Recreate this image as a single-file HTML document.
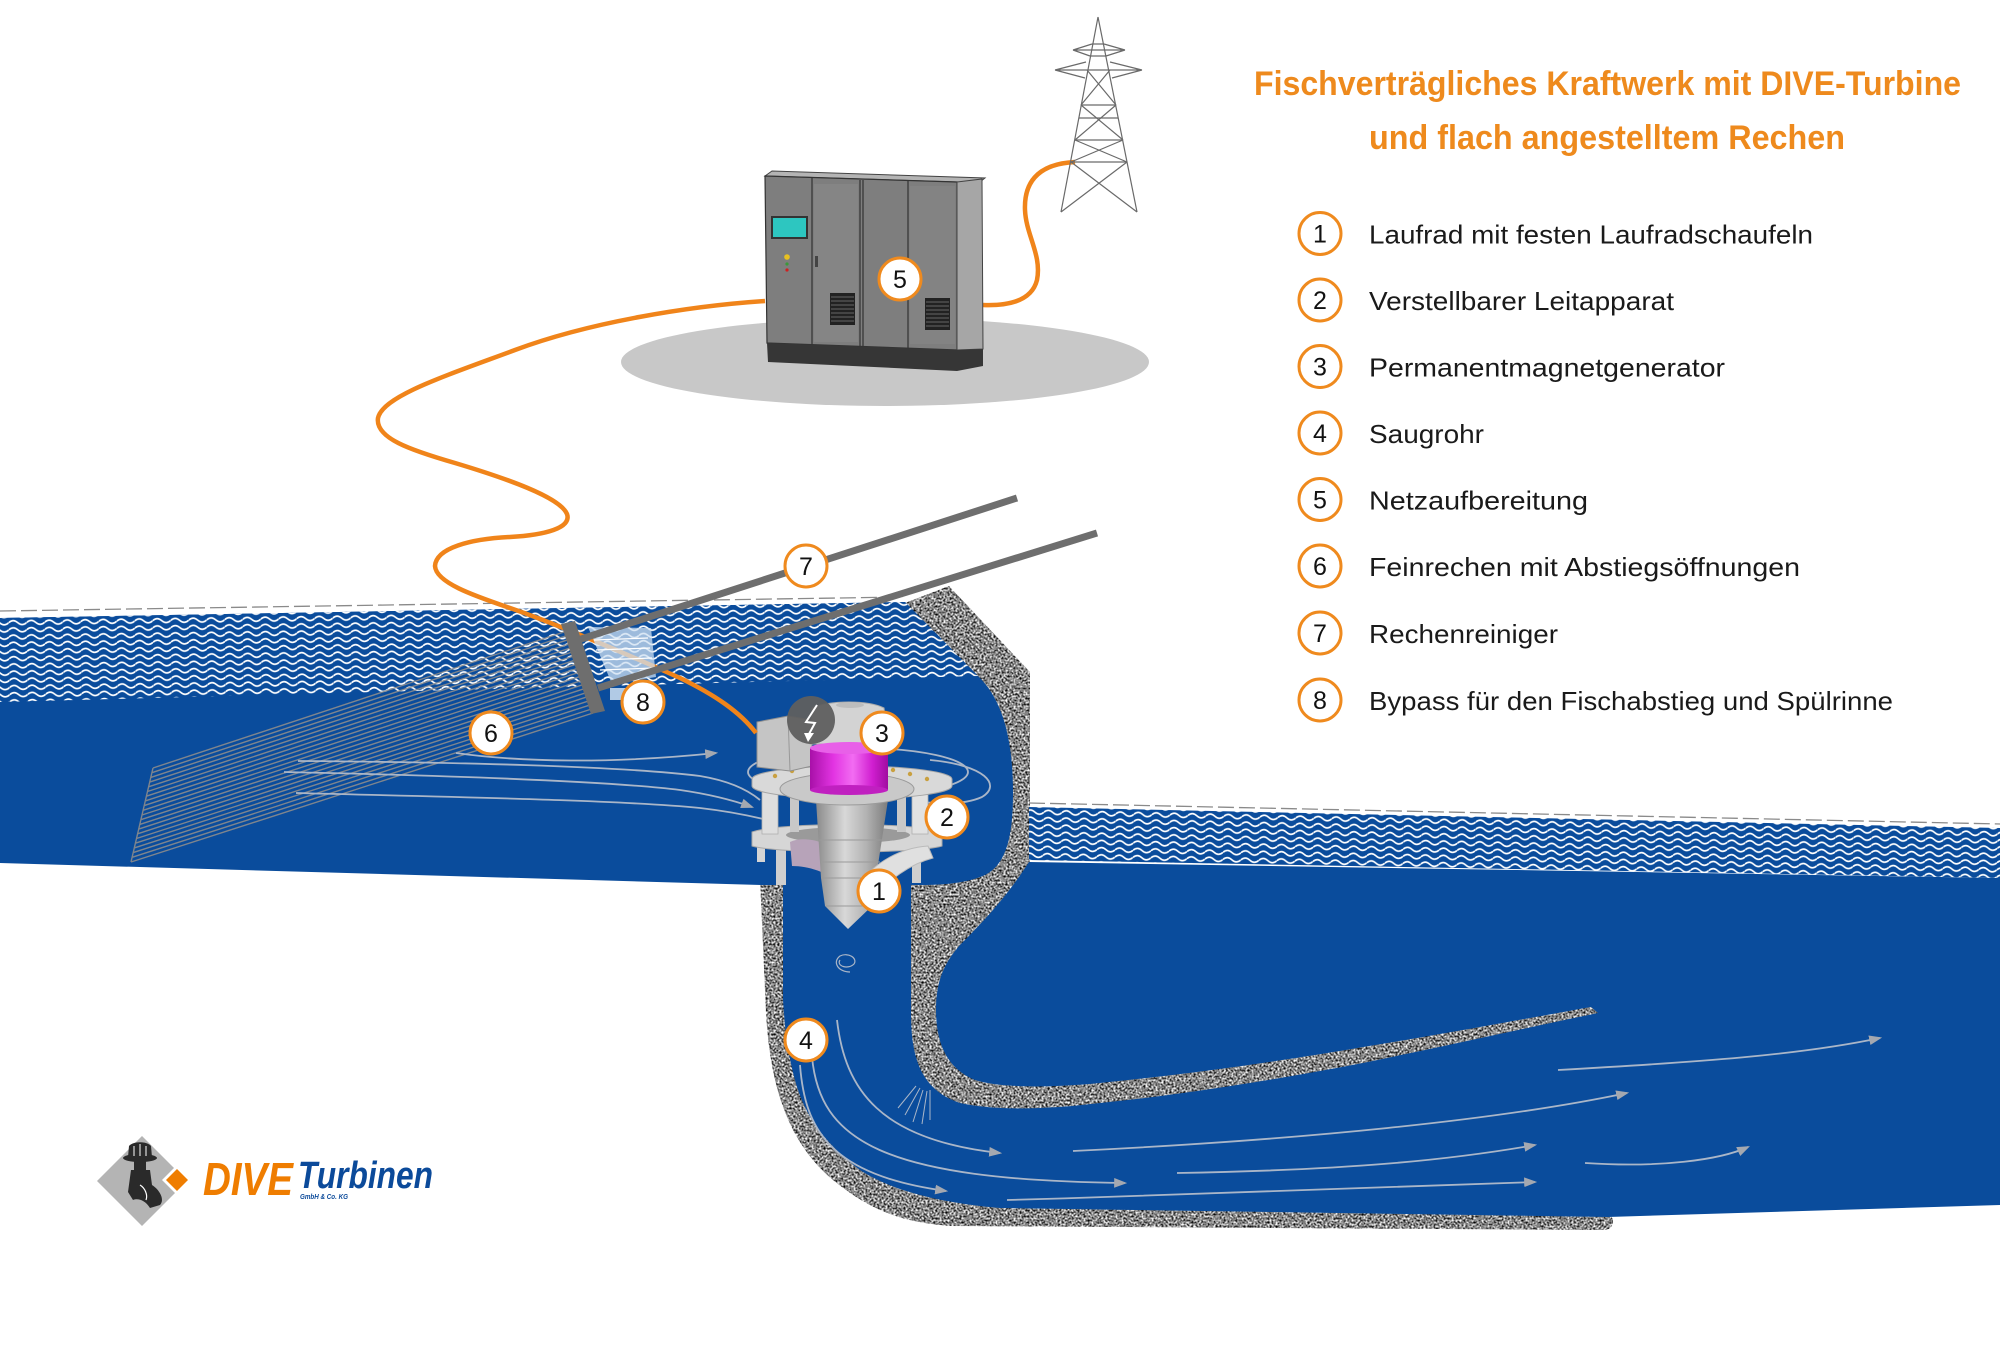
<!DOCTYPE html>
<html><head><meta charset="utf-8"><style>html,body{margin:0;padding:0;background:#fff;}svg{display:block}</style></head>
<body>
<svg width="2000" height="1350" viewBox="0 0 2000 1350" xmlns="http://www.w3.org/2000/svg">
<defs>
 <pattern id="wavesU" patternUnits="userSpaceOnUse" width="18" height="7.2" patternTransform="rotate(-0.8)">
  <rect width="18" height="7.2" fill="#0a4c9c"/>
  <path d="M0,3.6 C3,0.9 6,0.9 9,3.6 C12,6.3 15,6.3 18,3.6" stroke="#fff" stroke-width="1.6" fill="none"/>
 </pattern>
 <pattern id="wavesL" patternUnits="userSpaceOnUse" width="18" height="7.2" patternTransform="rotate(1.3)">
  <rect width="18" height="7.2" fill="#0a4c9c"/>
  <path d="M0,3.6 C3,0.9 6,0.9 9,3.6 C12,6.3 15,6.3 18,3.6" stroke="#fff" stroke-width="1.6" fill="none"/>
 </pattern>
 <filter id="grain" x="0" y="0" width="1" height="1" color-interpolation-filters="sRGB">
  <feTurbulence type="fractalNoise" baseFrequency="0.5" numOctaves="2" seed="7" result="n"/>
  <feColorMatrix in="n" type="matrix" values="1.9 0 0 0 -0.42  1.9 0 0 0 -0.42  1.9 0 0 0 -0.42  0 0 0 0 1" result="g"/>
  <feComposite in="g" in2="SourceGraphic" operator="in"/>
 </filter>
 <linearGradient id="magG" x1="0" x2="1" y1="0" y2="0">
  <stop offset="0" stop-color="#a810a8"/><stop offset="0.3" stop-color="#e234e2"/>
  <stop offset="0.55" stop-color="#f26cf2"/><stop offset="0.8" stop-color="#d01ed0"/>
  <stop offset="1" stop-color="#a00ca0"/>
 </linearGradient>
 <linearGradient id="coneG" x1="0" x2="1" y1="0" y2="0">
  <stop offset="0" stop-color="#8a8a8a"/><stop offset="0.4" stop-color="#d8d8d8"/>
  <stop offset="0.7" stop-color="#b2b2b2"/><stop offset="1" stop-color="#7c7c7c"/>
 </linearGradient>
 <marker id="ah" viewBox="0 0 12 9" refX="10" refY="4.5" markerWidth="13" markerHeight="10" markerUnits="userSpaceOnUse" orient="auto">
  <path d="M0,0 L12,4.5 L0,9 Z" fill="#a4a8b0"/>
 </marker>
</defs>

<rect width="2000" height="1350" fill="#fff"/>

<!-- Concrete -->
<g filter="url(#grain)">
 <path d="M905,603 L949,586 L1030,672 L1030,905 L1000,950 L1600,1008 L1603,1014 L1363,1066 L1197,1096 L1032,1111 L945,1103 L907,1080 L905,880 Z" fill="#888"/>
 <path d="M760,878 L766,1013 C770,1080 785,1140 833,1180 C870,1210 900,1222 950,1226 L1605,1230 C1614,1229 1616,1218 1608,1214 L1000,1205 L790,1000 L786,878 Z" fill="#888"/>
</g>

<!-- Upper reservoir -->
<path d="M0,618 L905,602 L978,676 C1003,700 1013,740 1013,793 C1013,840 1005,865 985,875 C965,884 940,885 917,885 L761,885 L0,863 Z" fill="#0a4c9c"/>
<path d="M0,618 L905,602 L978,676 L0,702 Z" fill="url(#wavesU)"/>
<line x1="0" y1="611" x2="903" y2="597" stroke="#8a8a8a" stroke-width="1.3" stroke-dasharray="16 5"/>

<!-- Lower water -->
<path d="M783,878 L911,878 L911,1013 C911,1060 922,1090 960,1103 C1000,1112 1060,1108 1100,1103 C1200,1093 1300,1075 1363,1063 C1450,1045 1540,1025 1598,1013 L1591,1007 C1540,1016 1450,1033 1363,1047 C1300,1058 1200,1073 1100,1083 C1050,1088 1000,1088 975,1080 C945,1068 936,1040 936,1010 C936,980 945,962 960,945 C985,920 1008,895 1029,862 L2000,878 L2000,1205 L1608,1217 L1000,1208 C940,1203 890,1190 860,1170 C820,1140 803,1110 795,1080 C787,1050 785,1030 783,1000 Z" fill="#0a4c9c"/>
<path d="M1029,807 L2000,828 L2000,878 L1029,860 Z" fill="url(#wavesL)"/>
<line x1="1029" y1="803" x2="2000" y2="824" stroke="#8a8a8a" stroke-width="1.3" stroke-dasharray="16 5"/>

<!-- Rake lines (6) -->
<path d="M153,768 L564,632 M151.9,772.7 L565.5,636 M150.8,777.4 L566.9,640.1 M149.7,782.1 L568.4,644.2 M148.6,786.8 L569.8,648.2 M147.5,791.5 L571.3,652.3 M146.4,796.2 L572.7,656.3 M145.3,800.9 L574.2,660.4 M144.2,805.6 L575.6,664.4 M143.1,810.3 L577.1,668.5 M142,815 L578.5,672.5 M140.9,819.7 L580,676.6 M139.8,824.4 L581.4,680.6 M138.7,829.1 L582.9,684.7 M137.6,833.8 L584.3,688.7 M136.5,838.5 L585.8,692.8 M135.4,843.2 L587.2,696.8 M134.3,847.9 L588.7,700.9 M133.2,852.6 L590.1,704.9 M132.1,857.3 L591.6,709 M131,862 L593,713 M153,768 L131,862" stroke="#8c8c8c" stroke-width="1.4" fill="none" opacity="0.9"/>

<!-- Flow lines upper -->
<g stroke="#aab6c8" stroke-width="1.8" fill="none">
 <path d="M456,753 C520,762 610,764 716,753" marker-end="url(#ah)"/>
 <path d="M298,761 C450,762 620,766 700,776 C730,781 748,790 760,800"/>
 <path d="M284,772 C420,775 600,780 680,790 C715,795 738,802 752,807" marker-end="url(#ah)"/>
 <path d="M296,793 C450,797 620,800 700,808 C735,812 760,818 775,822" marker-end="url(#ah)"/>
 <ellipse cx="858" cy="772" rx="110" ry="24"/>
 <path d="M930,760 C985,765 1002,785 982,797 C962,806 930,804 912,800"/>
</g>

<!-- Turbine -->
<g>
 <rect x="776" y="845" width="10" height="40" fill="#cfcfcf"/>
 <rect x="912" y="845" width="9" height="38" fill="#cfcfcf"/>
 <rect x="757" y="840" width="8" height="22" fill="#d4d4d4"/>
 <path d="M752,832 C780,822 915,822 942,832 L942,846 C915,854 780,854 752,846 Z" fill="#d6d6d6" stroke="#a8a8a8" stroke-width="1"/>
 <ellipse cx="848" cy="835" rx="62" ry="8" fill="#9a9a9a"/>
 <rect x="762" y="788" width="16" height="46" fill="#dedede" stroke="#b0b0b0" stroke-width="0.8"/>
 <rect x="790" y="792" width="9" height="40" fill="#c8c8c8"/>
 <rect x="897" y="792" width="9" height="40" fill="#c8c8c8"/>
 <rect x="912" y="788" width="16" height="46" fill="#e2e2e2" stroke="#b0b0b0" stroke-width="0.8"/>
 <path d="M790,842 C805,835 832,842 842,858 L840,884 C828,872 808,866 792,866 Z" fill="#b7a3b9"/>
 <path d="M816,800 L888,800 L876,878 L872,906 L848,929 L825,906 L821,878 Z" fill="url(#coneG)"/>
 <path d="M819,840 L884,840 M821,862 L880,862 M822,878 L876,878 M826,906 L872,906" stroke="#9a9a9a" stroke-width="1"/>
 <path d="M858,885 C875,862 900,848 928,846 L933,858 C910,864 888,880 872,900 Z" fill="#e0e0e0" stroke="#bbb" stroke-width="1"/>
 <path d="M752,779 A100,13 0 0 1 952,779 L952,786 A100,13 0 0 1 752,786 Z" fill="#d9d9d9" stroke="#a5a5a5" stroke-width="1"/>
 <ellipse cx="847" cy="789" rx="67" ry="16" fill="#c9c9c9" stroke="#9a9a9a" stroke-width="1"/>
 <g fill="#c9a040"><circle cx="775" cy="776" r="2.2"/><circle cx="792" cy="771" r="2.2"/><circle cx="893" cy="770" r="2.2"/><circle cx="910" cy="774" r="2.2"/><circle cx="927" cy="779" r="2.2"/></g>
 <path d="M757,722 L788,716 L812,720 L812,766 L790,771 L757,767 Z" fill="#c5c5c5" stroke="#8f8f8f" stroke-width="1"/>
 <path d="M788,716 L790,771" stroke="#999" stroke-width="1"/>
 <path d="M812,708 C830,700 868,700 884,708 L888,744 L810,744 Z" fill="#d3d3d3" stroke="#aaa" stroke-width="1"/>
 <ellipse cx="850" cy="705" rx="14" ry="3" fill="#bdbdbd"/>
 <rect x="810" y="748" width="78" height="42" fill="url(#magG)"/>
 <ellipse cx="849" cy="790" rx="39" ry="5" fill="#c020c0"/>
 <ellipse cx="849" cy="748" rx="39" ry="6" fill="#e860e8"/>
 <circle cx="811" cy="720" r="24" fill="#5f5f5f" fill-opacity="0.95"/>
 <path d="M817,705 L806,722 L815,723 L809,734" stroke="#fff" stroke-width="2" fill="none"/>
 <path d="M804,733 L814,733 L808,742 Z" fill="#fff"/>
</g>

<!-- Draft tube / lower flow lines -->
<g stroke="#aab6c8" stroke-width="1.8" fill="none">
 <path d="M837,1020 C845,1090 880,1140 1000,1153" marker-end="url(#ah)"/>
 <path d="M812,1057 C820,1140 880,1180 1125,1183" marker-end="url(#ah)"/>
 <path d="M800,1065 C805,1130 830,1175 946,1191" marker-end="url(#ah)"/>
 <path d="M1073,1151 C1300,1140 1500,1120 1627,1093" marker-end="url(#ah)"/>
 <path d="M1177,1173 C1350,1170 1450,1160 1535,1145" marker-end="url(#ah)"/>
 <path d="M1007,1200 C1200,1195 1400,1185 1535,1182" marker-end="url(#ah)"/>
 <path d="M1558,1070 C1700,1062 1800,1055 1880,1038" marker-end="url(#ah)"/>
 <path d="M1585,1163 C1660,1168 1720,1160 1748,1147" marker-end="url(#ah)"/>
 <path d="M840,960 C836,966 848,970 854,964 C858,958 848,952 840,956 C832,962 838,972 850,972" stroke-width="1.2"/>
 <path d="M920,1088 L905,1115 M923,1090 L913,1122 M927,1091 L922,1124 M930,1090 L930,1120 M916,1086 L898,1108" stroke-width="1"/>
</g>

<!-- Orange cables -->
<path d="M765,301 C690,306 590,322 515,350 C445,376 383,396 378,418 C375,438 410,450 455,463 C505,478 560,497 567,514 C572,528 545,535 510,537 C470,539 436,548 435,566 C436,583 475,596 510,608 C560,625 640,660 680,678 C715,695 740,712 756,733" stroke="#f0841a" stroke-width="4.5" fill="none"/>
<path d="M983,305 C1010,306 1032,300 1037,280 C1042,255 1026,235 1025,210 C1024,185 1035,164 1075,162" stroke="#f0841a" stroke-width="4.5" fill="none"/>

<!-- Bypass element & rake cleaner -->
<path d="M588,627 L651,628 L656,677 L612,684 Z" fill="#cfe0f2" fill-opacity="0.75"/>
<path d="M594,640 L648,638 M596,650 L650,648 M598,660 L652,658 M600,670 L654,668" stroke="#fff" stroke-width="1.2"/>
<rect x="610" y="688" width="16" height="12" fill="#cfe0f2" fill-opacity="0.85"/>
<line x1="578" y1="640" x2="1017" y2="498" stroke="#6e6e6e" stroke-width="7"/>
<line x1="598" y1="688" x2="1097" y2="533" stroke="#6e6e6e" stroke-width="7"/>
<path d="M561,624 L575,621 L605,711 L591,714 Z" fill="#6e6e6e"/>

<!-- Platform ellipse + cabinet -->
<ellipse cx="885" cy="362" rx="264" ry="44" fill="#c8c8c8"/>
<g>
 <polygon points="765,176 772,171 985,178 980,182 957,182" fill="#b4b4b4" stroke="#444" stroke-width="1"/>
 <polygon points="765,176 957,182 957,350 767,343" fill="#7e7e7e" stroke="#333" stroke-width="1.2"/>
 <polygon points="957,182 982,179 983,349 957,350" fill="#a6a6a6" stroke="#444" stroke-width="1"/>
 <path d="M812,178 L812,345 M860,180 L860,346 M863,180 L863,346 M908,181 L908,348" stroke="#333" stroke-width="1.2"/>
 <rect x="814" y="184" width="44" height="158" fill="#858585"/>
 <rect x="910" y="186" width="45" height="158" fill="#838383"/>
 <polygon points="767,343 957,350 983,349 983,366 957,371 768,362" fill="#363636"/>
 <rect x="772" y="217" width="35" height="21" fill="#2dc6c0" stroke="#333" stroke-width="2"/>
 <circle cx="787" cy="257" r="2.8" fill="#e8c020"/>
 <circle cx="787" cy="264" r="1.6" fill="#3a9a3a"/>
 <circle cx="787" cy="270" r="1.6" fill="#d02020"/>
 <rect x="815" y="256" width="3" height="11" fill="#444"/>
 <rect x="830" y="293" width="25" height="32" fill="#222"/>
 <rect x="925" y="298" width="25" height="32" fill="#222"/>
 <path d="M831,297 H854 M831,301 H854 M831,305 H854 M831,309 H854 M831,313 H854 M831,317 H854 M831,321 H854 M926,302 H949 M926,306 H949 M926,310 H949 M926,314 H949 M926,318 H949 M926,322 H949 M926,326 H949" stroke="#666" stroke-width="1"/>
</g>

<!-- Tower -->
<g stroke="#6a6a6a" stroke-width="1.2" fill="none">
 <path d="M1098,17 L1061,212 M1098,17 L1137,212"/>
 <path d="M1073,50 L1125,50 M1073,50 L1092,44 M1125,50 L1104,44 M1073,50 L1090,56 M1125,50 L1106,56"/>
 <path d="M1055,70 L1142,70 M1055,70 L1086,62 M1142,70 L1110,62 M1055,70 L1085,78 M1142,70 L1112,78"/>
 <path d="M1081,105 L1116,105 M1079,118 L1118,118 M1075,140 L1123,140 M1071,162 L1127,162"/>
 <path d="M1087,70 L1116,105 M1110,70 L1081,105 M1081,105 L1123,140 M1116,105 L1075,140 M1075,140 L1127,162 M1123,140 L1071,162 M1071,162 L1137,212 M1127,162 L1061,212"/>
 <path d="M1092,44 L1104,44 M1090,56 L1106,56"/>
</g>

<!-- Diagram labels -->
<g font-family="Liberation Sans, Arial, sans-serif" font-size="25" text-anchor="middle" fill="#111">
 <g fill="#fff" stroke="#ef8a1e" stroke-width="3">
  <circle cx="900" cy="279" r="21"/><circle cx="806" cy="566" r="21"/><circle cx="643" cy="702" r="21"/>
  <circle cx="491" cy="733" r="21"/><circle cx="882" cy="733" r="21"/><circle cx="947" cy="817" r="21"/>
  <circle cx="879" cy="891" r="21"/><circle cx="806" cy="1040" r="21"/>
 </g>
 <text x="900" y="288">5</text><text x="806" y="575">7</text><text x="643" y="711">8</text>
 <text x="491" y="742">6</text><text x="882" y="742">3</text><text x="947" y="826">2</text>
 <text x="879" y="900">1</text><text x="806" y="1049">4</text>
</g>

<!-- Title -->
<g font-family="Liberation Sans, Arial, sans-serif" font-weight="bold" font-size="34" fill="#ee8a1d">
 <text x="1254" y="95" textLength="707" lengthAdjust="spacingAndGlyphs">Fischverträgliches Kraftwerk mit DIVE-Turbine</text>
 <text x="1369" y="149" textLength="476" lengthAdjust="spacingAndGlyphs">und flach angestelltem Rechen</text>
</g>

<!-- Legend -->
<g fill="#fff" stroke="#ef8a1e" stroke-width="3">
 <circle cx="1320" cy="233.5" r="21"/><circle cx="1320" cy="300" r="21"/><circle cx="1320" cy="366.5" r="21"/>
 <circle cx="1320" cy="433" r="21"/><circle cx="1320" cy="499.5" r="21"/><circle cx="1320" cy="566" r="21"/>
 <circle cx="1320" cy="633" r="21"/><circle cx="1320" cy="700" r="21"/>
</g>
<g font-family="Liberation Sans, Arial, sans-serif" font-size="25" text-anchor="middle" fill="#111">
 <text x="1320" y="242.5">1</text><text x="1320" y="309">2</text><text x="1320" y="375.5">3</text>
 <text x="1320" y="442">4</text><text x="1320" y="508.5">5</text><text x="1320" y="575">6</text>
 <text x="1320" y="642">7</text><text x="1320" y="709">8</text>
</g>
<g font-family="Liberation Sans, Arial, sans-serif" font-size="26" fill="#1a1a1a">
 <text x="1369" y="243.5" textLength="444" lengthAdjust="spacingAndGlyphs">Laufrad mit festen Laufradschaufeln</text>
 <text x="1369" y="310" textLength="305" lengthAdjust="spacingAndGlyphs">Verstellbarer Leitapparat</text>
 <text x="1369" y="376.5" textLength="356" lengthAdjust="spacingAndGlyphs">Permanentmagnetgenerator</text>
 <text x="1369" y="443" textLength="115" lengthAdjust="spacingAndGlyphs">Saugrohr</text>
 <text x="1369" y="509.5" textLength="219" lengthAdjust="spacingAndGlyphs">Netzaufbereitung</text>
 <text x="1369" y="576" textLength="431" lengthAdjust="spacingAndGlyphs">Feinrechen mit Abstiegsöffnungen</text>
 <text x="1369" y="643" textLength="189" lengthAdjust="spacingAndGlyphs">Rechenreiniger</text>
 <text x="1369" y="710" textLength="524" lengthAdjust="spacingAndGlyphs">Bypass für den Fischabstieg und Spülrinne</text>
</g>

<!-- Logo -->
<g>
 <polygon points="97,1181 142,1136 187,1181 142,1226" fill="#b4b4b4"/>
 <polygon points="162,1180 177,1165 192,1180 177,1195" fill="#fff"/>
 <polygon points="166,1180 177,1169 188,1180 177,1191" fill="#ef7d00"/>
 <ellipse cx="140" cy="1158" rx="17" ry="4" fill="#2a2a2a"/>
 <path d="M128,1157 L129,1146 C133,1141 147,1141 151,1146 L152,1157 Z" fill="#2a2a2a"/>
 <path d="M134,1146 V1156 M140,1144 V1156 M146,1146 V1156" stroke="#fff" stroke-width="1"/>
 <rect x="134" y="1161" width="12" height="10" fill="#2a2a2a"/>
 <path d="M131,1170 L150,1170 L152,1185 C160,1190 165,1200 160,1205 L150,1208 C145,1200 138,1198 133,1200 L128,1192 Z" fill="#2a2a2a"/>
 <path d="M140,1185 C145,1188 148,1195 146,1200" stroke="#fff" stroke-width="1.2" fill="none"/>
 <text x="203" y="1195" font-family="Liberation Sans, Arial, sans-serif" font-weight="bold" font-style="italic" font-size="46" fill="#ef7d00" textLength="90" lengthAdjust="spacingAndGlyphs">DIVE</text>
 <text x="298" y="1188" font-family="Liberation Sans, Arial, sans-serif" font-weight="bold" font-style="italic" font-size="38" fill="#0b4a9a" textLength="135" lengthAdjust="spacingAndGlyphs">Turbinen</text>
 <text x="300" y="1199" font-family="Liberation Sans, Arial, sans-serif" font-weight="bold" font-style="italic" font-size="7" fill="#0b4a9a" textLength="48" lengthAdjust="spacingAndGlyphs">GmbH &amp; Co. KG</text>
</g>
</svg>
</body></html>
